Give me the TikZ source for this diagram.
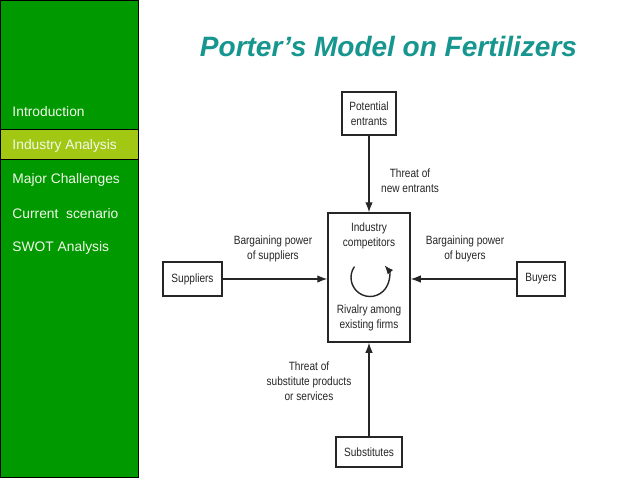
\documentclass[tikz,border=0pt]{standalone}
\usepackage{fontspec}
\setmainfont{Liberation Sans}
\newfontfamily\diagfont[FakeStretch=0.84]{Liberation Sans}
\usetikzlibrary{arrows.meta}
\definecolor{sidegreen}{HTML}{009A00}
\definecolor{hilite}{HTML}{A2C814}
\definecolor{titleteal}{HTML}{17968F}
\definecolor{inkgray}{HTML}{262626}
\definecolor{menutext}{HTML}{F4F8EC}
\tikzset{
  menu/.style={anchor=west, text=menutext, font=\fontsize{13.8}{16}\selectfont, inner sep=0},
  box/.style={draw=inkgray, line width=1.5pt, font=\diagfont\fontsize{12}{14.5}\selectfont, align=center, inner sep=0, text=inkgray},
  lbl/.style={font=\diagfont\fontsize{12}{14.8}\selectfont, align=center, text=inkgray, inner sep=0},
  arr/.style={draw=inkgray, line width=1.2pt, -{Latex[length=10pt,width=7.5pt]}}
}
\begin{document}
\begin{tikzpicture}[x=1pt,y=1pt]
\useasboundingbox (0,0) rectangle (638,-479);
\fill[white] (0,0) rectangle (638,-479);
% sidebar
\draw[fill=sidegreen, line width=1pt] (0.5,-0.5) rectangle (138,-477.5);
\draw[fill=hilite, line width=1pt] (0.5,-129.5) rectangle (138,-159.5);
\node[menu] (m1) at (12.3,-111.5) {Introduction};
\node[menu] (m2) at (12.3,-146) {Industry Analysis};
\node[menu] (m3) at (12.3,-180) {Major Challenges};
\node[menu] (m4) at (12.3,-214) {Current\ \ scenario};
\node[menu] (m5) at (12.3,-248) {SWOT Analysis};
% title
\node[text=titleteal, font=\bfseries\itshape\fontsize{28}{32}\selectfont, inner sep=0] (title) at (388.5,-46) {Porter{\char"27}s Model on Fertilizers};
% boxes
\node[box, minimum width=54pt, minimum height=43pt] (entr) at (369,-113.5) {Potential\\entrants};
\node[box, minimum width=82pt, minimum height=129pt] (ind) at (369,-277.5) {};
\node[box, minimum width=59pt, minimum height=34pt] (sup) at (192.5,-279) {Suppliers};
\node[box, minimum width=48pt, minimum height=34pt] (buy) at (541,-279) {Buyers};
\node[box, minimum width=66pt, minimum height=30pt] (subst) at (369,-452) {Substitutes};
% inner texts
\node[lbl] (indtop) at (369,-235.5) {Industry\\competitors};
\node[lbl] (indbot) at (369,-317.5) {Rivalry among\\existing firms};
\coordinate (rc) at (370,-277.5);
\draw[arr, line width=1.4pt, -{Latex[length=9pt,width=7pt]}] ([shift={(145:19)}]rc) arc[start angle=145, end angle=400, radius=19];
% arrows
\draw[arr] (entr.south) -- (ind.north);
\draw[arr] (sup.east) -- (sup.east -| ind.west);
\draw[arr] (buy.west) -- (buy.west -| ind.east);
\draw[arr] (subst.north) -- (ind.south);
% labels
\node[lbl] (lentr) at (410,-181) {Threat of\\new entrants};
\node[lbl] (lsup) at (273,-249) {Bargaining power\\of suppliers};
\node[lbl] (lbuy) at (465,-249) {Bargaining power\\of buyers};
\node[lbl] (lsubst) at (309,-381.5) {Threat of\\substitute products\\or services};
\end{tikzpicture}
\end{document}
